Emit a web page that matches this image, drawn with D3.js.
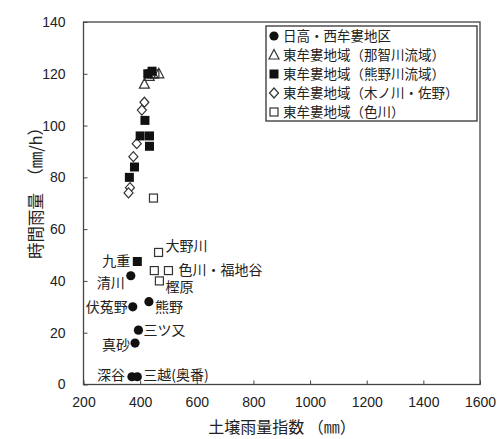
<!DOCTYPE html>
<html><head><meta charset="utf-8">
<script src="https://cdn.jsdelivr.net/npm/d3@7"></script>
<style>
body{margin:0;background:#fff;}
svg{display:block;}
text{font-family:"Noto Sans CJK JP","Noto Sans",sans-serif;fill:#222;}
.num{font-family:"Liberation Sans",Arial,sans-serif;}
</style></head><body>
<svg id="chart" width="502" height="439"></svg>
<script>
// Soil rainfall index (mm) vs. hourly rainfall (mm/h) by area
const seriesNames = ["日高・西牟婁地区","東牟婁地域（那智川流域）","東牟婁地域（熊野川流域）","東牟婁地域（木ノ川・佐野）","東牟婁地域（色川）"];
const seriesShapes = ["circle","triangle","squareFilled","diamond","square"];

// [soil index, hourly rain]
const hidakaNishimuro = [[367,42],[374,30],[431,32],[394,21],[382,16],[371,3],[390,3]];
const nachi = [[415,116],[445,120],[466,120],[432,119]];
const kumanoRiver = [[427,120],[442,121],[417,102],[400,96],[433,96],[433,92],[380,84],[362,80],[390,47.5]];
const konoSano = [[415,109],[406,106],[388,93],[376,88],[364,76],[359,74]];
const irokawa = [[437,120],[452,120],[447,72],[465,51],[450,44],[500,44],[468,40]];
const seriesData = [hidakaNishimuro, nachi, kumanoRiver, konoSano, irokawa];

// point labels: [text, soil index, hourly rain]
const pointLabels = [
  ["大野川",465,51],["九重",390,47.5],["色川・福地谷",500,44],
  ["清川",367,42],["樫原",468,40],["伏菟野",374,30],
  ["熊野",431,32],["三ツ又",394,21],["真砂",382,16],
  ["深谷",371,3],["三越(奥番)",390,3]
];
// label placement relative to its mark: [dx, dy, anchor]
const labelPlacement = {
  "大野川":[7,-6,"start"], "九重":[-7,0,"end"], "色川・福地谷":[10,0,"start"],
  "清川":[-6,7,"end"], "樫原":[6,6,"start"], "伏菟野":[-5,0,"end"],
  "熊野":[6,5,"start"], "三ツ又":[5,0,"start"], "真砂":[-5,2,"end"],
  "深谷":[-7,-2,"end"], "三越(奥番)":[6,-2,"start"]
};

const xTicks = [200,400,600,800,1000,1200,1400,1600];
const yTicks = [0,20,40,60,80,100,120,140];

const svg = d3.select("#chart");
const L = 83.5, R = 480, T = 22, B = 384.5;
const x = d3.scaleLinear().domain([200,1600]).range([L,R]);
const y = d3.scaleLinear().domain([0,140]).range([B,T]);

// frame
svg.append("rect").attr("x",L).attr("y",T).attr("width",R-L).attr("height",B-T)
  .attr("fill","none").attr("stroke","#444").attr("stroke-width",1.3);

const yAxis = svg.append("g").attr("transform",`translate(${L},0)`)
  .call(d3.axisLeft(y).tickValues(yTicks).tickSize(-4).tickPadding(18).tickFormat(d3.format("d")));
yAxis.select(".domain").remove();
yAxis.selectAll("line").attr("stroke","#444");
yAxis.selectAll("text").attr("class","num").style("font-size","14px").attr("fill","#333");

const xAxis = svg.append("g").attr("transform",`translate(0,${B})`)
  .call(d3.axisBottom(x).tickValues(xTicks).tickSize(-4).tickPadding(13).tickFormat(d3.format("d")));
xAxis.select(".domain").remove();
xAxis.selectAll("line").attr("stroke","#444");
xAxis.selectAll("text").attr("class","num").style("font-size","14px").attr("fill","#333");

// axis titles
svg.append("text").attr("x",282).attr("y",427).attr("dy","0.35em").attr("text-anchor","middle")
  .style("font-size","16px").text("土壌雨量指数 （㎜）");
svg.append("text").attr("transform","translate(36,189) rotate(-90)").attr("dy","0.35em").attr("text-anchor","middle")
  .style("font-size","16.5px").text("時間雨量　（㎜/h）");

function drawMarker(g, shape, cx, cy){
  if(shape==="circle"){
    g.append("circle").attr("cx",cx).attr("cy",cy).attr("r",4.6).attr("fill","#111");
  } else if(shape==="squareFilled"){
    g.append("rect").attr("x",cx-4.5).attr("y",cy-4.5).attr("width",9).attr("height",9).attr("fill","#111");
  } else if(shape==="square"){
    g.append("rect").attr("x",cx-4).attr("y",cy-4).attr("width",8).attr("height",8)
      .attr("fill","none").attr("stroke","#333").attr("stroke-width",1.2);
  } else if(shape==="diamond"){
    g.append("path").attr("d",`M${cx},${cy-5}L${cx+4.5},${cy}L${cx},${cy+5}L${cx-4.5},${cy}Z`)
      .attr("fill","#fff").attr("stroke","#333").attr("stroke-width",1.2);
  } else if(shape==="triangle"){
    g.append("path").attr("d",`M${cx},${cy-5.5}L${cx+5},${cy+4}L${cx-5},${cy+4}Z`)
      .attr("fill","none").attr("stroke","#333").attr("stroke-width",1.2);
  }
}

const pts = svg.append("g");
[3,4,1,2,0].forEach(i=>{
  seriesData[i].forEach(d=>drawMarker(pts, seriesShapes[i], x(d[0]), y(d[1])));
});

// point labels
const lab = svg.append("g");
pointLabels.forEach(([t,vx,vy])=>{
  const [dx,dy,anchor] = labelPlacement[t];
  lab.append("text")
    .attr("x", x(vx)+dx)
    .attr("y", y(vy)+dy)
    .attr("dy","0.35em")
    .attr("text-anchor", anchor)
    .style("font-size","14px").text(t);
});

// legend
const lg = svg.append("g");
lg.append("rect").attr("x",266).attr("y",26).attr("width",211).attr("height",95)
  .attr("fill","#fff").attr("stroke","#333").attr("stroke-width",1.3);
seriesNames.forEach((n,i)=>{
  const cy = 36 + i*19;
  drawMarker(lg, seriesShapes[i], 274, cy);
  lg.append("text").attr("x",283).attr("y",cy).attr("dy","0.35em")
    .style("font-size","13.5px").text(n);
});
</script>
</body></html>
